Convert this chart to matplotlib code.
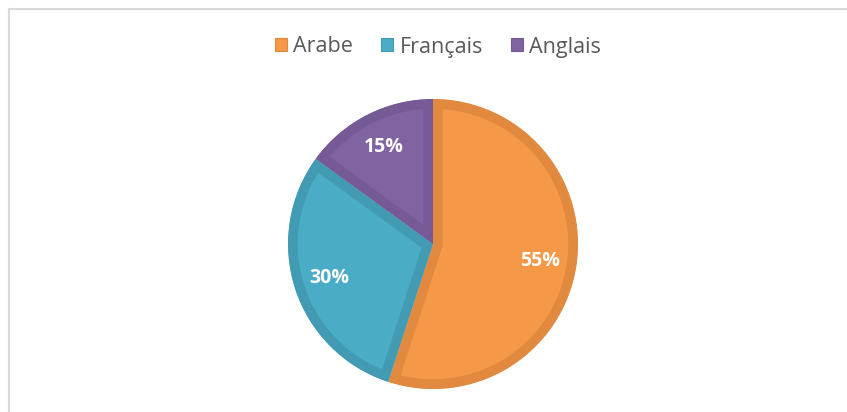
import matplotlib.pyplot as plt
from matplotlib.patches import Patch
from matplotlib.lines import Line2D

# data
labels = ["Arabe", "Français", "Anglais"]
shares = [55, 30, 15]
fill_colors = ["#F59847", "#4BACC6", "#8064A2"]
edge_colors = ["#E0893F", "#429BB3", "#755A95"]

W, H = 847, 412
fig = plt.figure(figsize=(W / 100, H / 100), dpi=100)
plt.rcParams['font.family'] = ['Open Sans', 'DejaVu Sans']

# light grey frame (top and left edges visible)
fig.add_artist(Line2D([8.5 / W, 1], [1 - 8.5 / H, 1 - 8.5 / H], color="#D9D9D9", lw=1.5))
fig.add_artist(Line2D([8.5 / W, 8.5 / W], [0, 1 - 8.5 / H], color="#D9D9D9", lw=1.5))

# pie axes placed by pixel geometry
cx, cy, r = 433, 412 - 244, 145
ax = fig.add_axes([(cx - r) / W, (cy - r) / H, 2 * r / W, 2 * r / H])

wedges, texts, autotexts = ax.pie(
    shares, colors=fill_colors, startangle=90, counterclock=False,
    autopct="%d%%", pctdistance=0.75, radius=1,
    textprops=dict(color="white", fontsize=14, fontweight="bold"),
)
# border drawn on the inside of each slice
for w, ec in zip(wedges, edge_colors):
    w.set_edgecolor(ec)
    w.set_linewidth(14)
    w.set_clip_path(w.get_path(), w.get_transform())
    w.set_clip_on(True)
ax.set_xlim(-1, 1)
ax.set_ylim(-1, 1)
ax.set_aspect("equal")
ax.axis("off")

handles = [Patch(facecolor=fc, edgecolor=ec, lw=0.8) for fc, ec in zip(fill_colors, edge_colors)]
fig.legend(handles, labels, loc="center", bbox_to_anchor=(438 / W, 1 - 47 / H),
           ncol=3, frameon=False, fontsize=15.5, labelcolor="#595959",
           handlelength=0.56, handleheight=0.56, handletextpad=0.3, columnspacing=1.3)

fig.savefig("out.png", dpi=100)
